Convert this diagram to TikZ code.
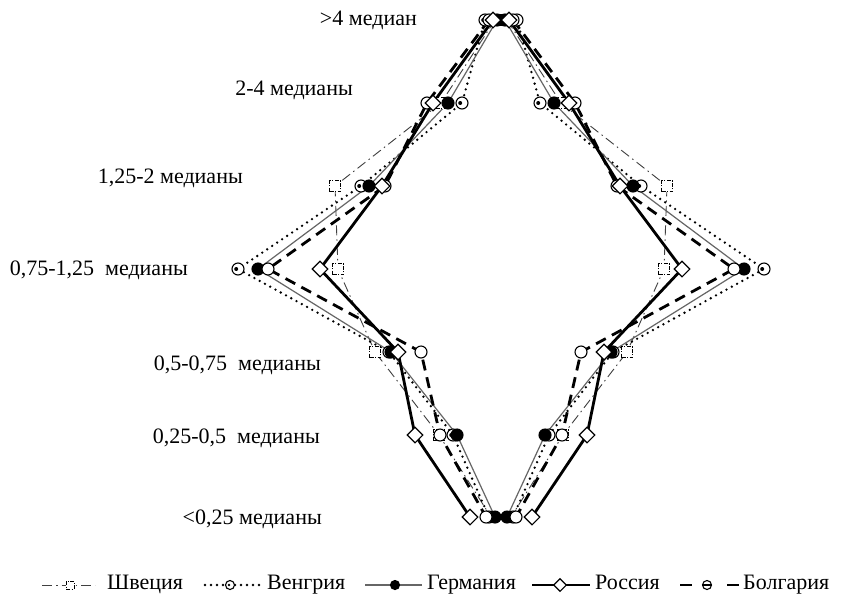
\documentclass[tikz,border=0pt]{standalone}
\usepackage{fontspec}
\setmainfont{Liberation Serif}
\usetikzlibrary{shapes.geometric}
\begin{document}
\begin{tikzpicture}[x=1pt,y=-1pt,
  sw/.style={line width=0.9pt, black!75, dash pattern=on 10pt off 4pt on 1.5pt off 4pt},
  hu/.style={line width=2.6pt, dash pattern=on 0pt off 6pt, line cap=round},
  ge/.style={line width=1.2pt, black!60},
  ru/.style={line width=2.8pt},
  bg/.style={line width=2.8pt, dash pattern=on 11pt off 7pt},
  mk/.style={inner sep=0pt, line width=1.1pt, draw, fill=white, solid},
  mSw/.style={mk, rectangle, minimum size=11pt, line width=1pt, dash pattern=on 4pt off 1.5pt on 1pt off 1.5pt},
  mHu/.style={mk, circle, minimum size=12pt, path picture={\fill[black] ([xshift=-1.8pt]path picture bounding box.center) circle (2pt);}},
  mGe/.style={mk, circle, minimum size=12pt, fill=black},
  mRu/.style={mk, diamond, minimum size=16pt},
  mBg/.style={mk, circle, minimum size=12pt},
  lab/.style={anchor=mid east, inner sep=0pt, font=\fontsize{22}{26}\selectfont},
  leg/.style={anchor=mid west, inner sep=0pt, font=\fontsize{22}{26}\selectfont}]
\useasboundingbox[fill=white] (0,0) rectangle (850,598);
\def\ys{{20,103,186,269,352,435,517}}
\foreach \n/\lst in {Sw/{6,60,166,163,126,62,10}, Hu/{16,39,140,263,112,48,12}, Ge/{4,53,132,243,110,44,6}, Ru/{8,68,119,181,103,86,31}, Bg/{12,74,116,233,80,61,15}}{
  \foreach \d [count=\i from 0] in \lst {
    \pgfmathsetmacro\yy{\ys[\i]}
    \coordinate (\n L\i) at ({501-\d},\yy);
    \coordinate (\n R\i) at ({501+\d},\yy);
  }
}
\foreach \n/\s in {Sw/sw,Hu/hu,Ge/ge,Bg/bg,Ru/ru}{
  \draw[\s] (\n L0) \foreach \i in {1,...,6}{--(\n L\i)};
  \draw[\s] (\n R0) \foreach \i in {1,...,6}{--(\n R\i)};
}
\foreach \n in {Sw,Hu,Ge,Bg,Ru}{
  \foreach \i in {0,...,6}{
    \node[m\n] (m\n L\i) at (\n L\i) {};
    \node[m\n] (m\n R\i) at (\n R\i) {};
  }
}
% row labels
\node[lab] (l0) at (417,23) {>4 медиан};
\node[lab] (l1) at (353,93) {2-4 медианы};
\node[lab] (l2) at (243,181) {1,25-2 медианы};
\node[lab] (l3) at (188,273) {0,75-1,25~~медианы};
\node[lab] (l4) at (321,368) {0,5-0,75~~медианы};
\node[lab] (l5) at (320,441) {0,25-0,5~~медианы};
\node[lab] (l6) at (322,522) {<0,25 медианы};
% legend
\coordinate (gSwA) at (42,585); \coordinate (gSwB) at (95,585);
\coordinate (gHuA) at (205,585); \coordinate (gHuB) at (263,585);
\coordinate (gGeA) at (365,585); \coordinate (gGeB) at (422,585);
\coordinate (gRuA) at (532,585); \coordinate (gRuB) at (590,585);
\coordinate (gBgA) at (680,585); \coordinate (gBgB) at (740,585);
\draw[sw] (gSwA) -- (gSwB);
\draw[hu] (gHuA) -- (gHuB);
\draw[ge] (gGeA) -- (gGeB);
\draw[ru] (gRuA) -- (gRuB);
\draw[bg, dash pattern=on 12pt off 35pt] (gBgA) -- (gBgB);
\node[mSw, minimum size=8pt] (kSw) at (70,585) {};
\node[mHu, minimum size=9pt, path picture={\fill[black] ([xshift=-1pt]path picture bounding box.center) circle (1.3pt);}] (kHu) at (230,585) {};
\node[mGe, minimum size=9pt] (kGe) at (395,585) {};
\node[mRu, minimum size=13pt] (kRu) at (560,585) {};
\node[mBg, minimum size=9pt] (kBg) at (707,585) {};
\draw[line width=1.1pt] (kBg.west) -- (kBg.east);
\node[leg] (tSw) at (107,587) {Швеция};
\node[leg] (tHu) at (267,587) {Венгрия};
\node[leg] (tGe) at (427,587) {Германия};
\node[leg] (tRu) at (595,587) {Россия};
\node[leg] (tBg) at (743,587) {Болгария};
\end{tikzpicture}
\end{document}
